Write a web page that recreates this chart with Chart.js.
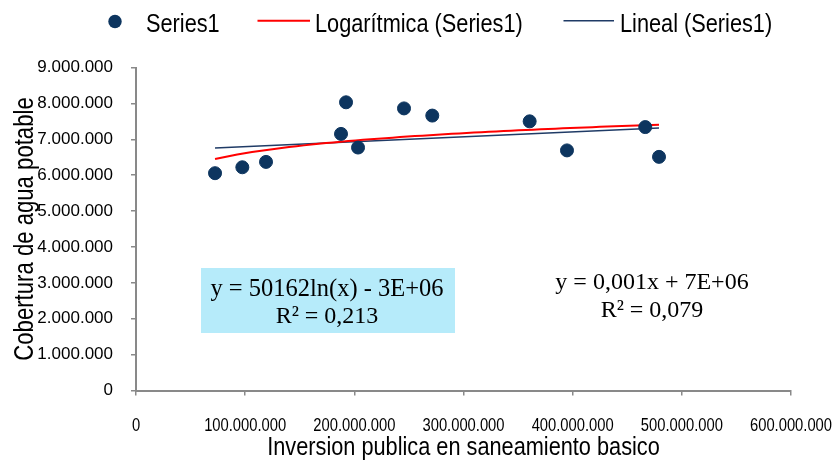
<!DOCTYPE html>
<html><head><meta charset="utf-8">
<script src="https://cdn.jsdelivr.net/npm/chart.js@4/dist/chart.umd.min.js"></script>
<style>html,body{margin:0;padding:0;background:#fff}#wrap{position:relative;width:835px;height:461px}canvas{display:block}</style>
</head><body><div id="wrap"><canvas id="c" width="835" height="461" style="width:835px;height:461px"></canvas></div>
<script>
// ---- data ----
const inversion = [72.4e6, 97.4e6, 119.1e6, 187.8e6, 192.4e6, 203.4e6, 245.5e6, 271.4e6, 360.6e6, 394.8e6, 466.5e6, 479.1e6];
const cobertura = [6055000, 6220000, 6370000, 7150000, 8030000, 6770000, 7860000, 7660000, 7500000, 6690000, 7340000, 6510000];
const seriesNames = ['Series1', 'Logarítmica (Series1)', 'Lineal (Series1)'];
const xTickValues = [0, 100000000, 200000000, 300000000, 400000000, 500000000, 600000000];
const yTickValues = [0, 1000000, 2000000, 3000000, 4000000, 5000000, 6000000, 7000000, 8000000, 9000000];
const xTitle = 'Inversion publica en saneamiento basico';
const yTitle = 'Cobertura de agua potable';
const eqLog = ['y = 50162ln(x) - 3E+06', 'R² = 0,213'];
const eqLin = ['y = 0,001x + 7E+06', 'R² = 0,079'];

// ---- trendlines: least-squares fits of Series1 (as the spreadsheet does) ----
function fit(xs, ys) {
  const n = xs.length;
  const mx = xs.reduce((a, b) => a + b, 0) / n, my = ys.reduce((a, b) => a + b, 0) / n;
  let sxy = 0, sxx = 0;
  for (let i = 0; i < n; i++) { sxy += (xs[i] - mx) * (ys[i] - my); sxx += (xs[i] - mx) ** 2; }
  const m = sxy / sxx; return { m, b: my - m * mx };
}
const xMin = Math.min(...inversion), xMax = Math.max(...inversion);
const lin = fit(inversion, cobertura);
const lg = fit(inversion.map(Math.log), cobertura);
const linPts = [xMin, xMax].map(x => ({ x, y: lin.m * x + lin.b }));
const logPts = [];
for (let k = 0; k <= 60; k++) { const x = xMin + (xMax - xMin) * k / 60; logPts.push({ x, y: lg.m * Math.log(x) + lg.b }); }

const fmt = v => Math.round(v).toString().replace(/\B(?=(\d{3})+(?!\d))/g, '.');

// ---- condensed sans (no narrow face installed): squeeze text drawn in the tagged family ----
const canvas = document.getElementById('c');
const c2d = canvas.getContext('2d');
const SQ = 0.82, TAG = 'NarrowSq';
const _fill = c2d.fillText.bind(c2d), _measure = c2d.measureText.bind(c2d);
c2d.fillText = function (t, x, y, mw) {
  if (String(this.font).indexOf(TAG) >= 0) {
    this.save(); this.translate(x, y); this.scale(SQ, 1); _fill(t, 0, 0); this.restore();
  } else if (mw === undefined) _fill(t, x, y); else _fill(t, x, y, mw);
};
c2d.measureText = function (t) {
  const m = _measure(t);
  if (String(this.font).indexOf(TAG) >= 0) return { width: m.width * SQ, actualBoundingBoxAscent: m.actualBoundingBoxAscent, actualBoundingBoxDescent: m.actualBoundingBoxDescent };
  return m;
};
const NARROW = TAG + ", 'Liberation Sans', Arial, sans-serif";
const SANS = "'Liberation Sans', Arial, sans-serif";
const SERIF = "'Liberation Serif','DejaVu Serif',serif";
const navy = '#0D355F', red = '#FF0000', lineBlue = '#1F3B66', axisGray = '#898989';

const overlay = {
  id: 'overlay',
  afterDraw(chart) {
    const ctx = chart.ctx;
    ctx.save();
    // legend
    ctx.fillStyle = navy; ctx.beginPath(); ctx.arc(115, 21.5, 6.7, 0, Math.PI * 2); ctx.fill();
    ctx.strokeStyle = red; ctx.lineWidth = 2; ctx.beginPath(); ctx.moveTo(257.5, 20.7); ctx.lineTo(310, 20.7); ctx.stroke();
    ctx.strokeStyle = lineBlue; ctx.lineWidth = 1.5; ctx.beginPath(); ctx.moveTo(563.5, 20.7); ctx.lineTo(614, 20.7); ctx.stroke();
    ctx.fillStyle = '#000'; ctx.font = '26.5px ' + NARROW; ctx.textBaseline = 'alphabetic'; ctx.textAlign = 'left';
    ctx.fillText(seriesNames[0], 146, 31.5);
    ctx.fillText(seriesNames[1], 315, 31.5);
    ctx.fillText(seriesNames[2], 620, 31.5);
    // equation boxes
    ctx.fillStyle = '#B6EBFA'; ctx.fillRect(201, 268, 254, 65);
    ctx.fillStyle = '#000'; ctx.font = '24.5px ' + SERIF; ctx.textAlign = 'center';
    ctx.fillText(eqLog[0], 327, 295.7);
    ctx.font = '24px ' + SERIF;
    ctx.fillText(eqLog[1], 327, 323.3);
    ctx.fillText(eqLin[0], 652, 288.5);
    ctx.fillText(eqLin[1], 652, 317);
    ctx.restore();
  }
};

new Chart(canvas, {
  type: 'scatter',
  data: {
    datasets: [
      { label: seriesNames[0], data: inversion.map((x, i) => ({ x, y: cobertura[i] })), backgroundColor: navy, borderColor: navy, pointRadius: 6.5, pointHoverRadius: 6.5, order: 0 },
      { label: seriesNames[1], data: logPts, showLine: true, borderColor: red, borderWidth: 2, pointRadius: 0, fill: false, tension: 0, order: 1 },
      { label: seriesNames[2], data: linPts, showLine: true, borderColor: lineBlue, borderWidth: 1.5, pointRadius: 0, fill: false, order: 2 }
    ]
  },
  options: {
    responsive: false, maintainAspectRatio: false, animation: false, devicePixelRatio: 1,
    layout: { padding: { top: 67.5, right: 44, left: 0, bottom: 0 } },
    plugins: { legend: { display: false }, tooltip: { enabled: false } },
    scales: {
      x: {
        type: 'linear', min: 0, max: 600000000,
        afterBuildTicks: s => { s.ticks = xTickValues.map(v => ({ value: v })); },
        afterFit: s => { s.height = 70.5; s.paddingLeft = 0; s.paddingRight = 0; },
        ticks: { callback: v => fmt(v), color: '#000', font: { family: NARROW, size: 18 }, padding: 20, maxRotation: 0, autoSkip: false },
        grid: { drawOnChartArea: false, drawTicks: true, tickLength: 5, color: axisGray, lineWidth: 1.5 },
        border: { color: axisGray, width: 2 },
        title: { display: true, text: xTitle, color: '#000', font: { family: NARROW, size: 26.5, lineHeight: 1 }, padding: { top: 0, bottom: 0 } }
      },
      y: {
        type: 'linear', min: 0, max: 9000000,
        afterBuildTicks: s => { s.ticks = yTickValues.map(v => ({ value: v })); },
        afterFit: s => { s.width = 136; s.paddingTop = 0; s.paddingBottom = 0; },
        ticks: { callback: v => fmt(v), color: '#000', font: { family: SANS, size: 17 }, padding: 18, autoSkip: false },
        grid: { drawOnChartArea: false, drawTicks: true, tickLength: 5, color: axisGray, lineWidth: 1.5 },
        border: { color: axisGray, width: 2 },
        title: { display: true, text: yTitle, color: '#000', font: { family: NARROW, size: 27, lineHeight: 1 }, padding: { top: 12.5, bottom: 0 } }
      }
    }
  },
  plugins: [overlay]
});
</script></body></html>
